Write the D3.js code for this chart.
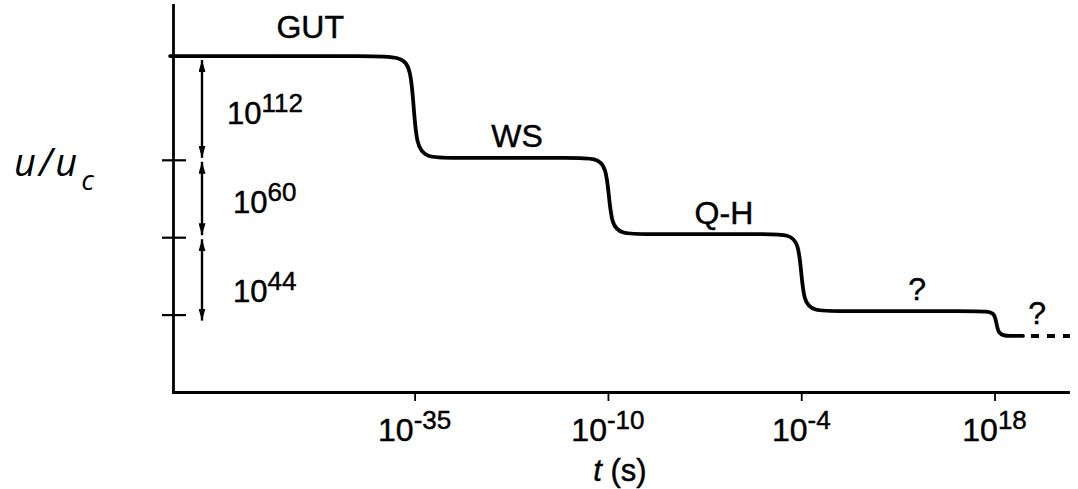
<!DOCTYPE html>
<html>
<head>
<meta charset="utf-8">
<script src="https://cdn.jsdelivr.net/npm/d3@7"></script>
<style>
  html, body { margin: 0; padding: 0; background: #fff; }
  svg { display: block; }
  text { font-family: "Liberation Sans", Arial, sans-serif; fill: #000; stroke: #000; stroke-width: 0.45px; }
</style>
</head>
<body>
<svg id="chart" width="1078" height="489"></svg>
<script>
// Schematic history of the energy density u/u_c through the cosmic phase transitions.
// Time axis: one unit per epoch boundary (schematic, not to scale).
const tickTimes = [1, 2, 3, 4];
const tickBase = ["10", "10", "10", "10"];
const tickExp = ["-35", "-10", "-4", "18"];

// Plateau levels of u/u_c (schematic units), one per phase
const phaseNames = ["GUT", "WS", "Q-H", "?", "?"];
const plateauLevels = [86.8, 60.5, 40.8, 20.9, 14.5];
const phaseLabelT = [0.46, 1.53, 2.60, 3.60, 4.22];

// Phase transitions: time and half-duration (epoch units)
const transitionTimes = [0.995, 2.005, 3.0, 4.01];
const transitionHalfWidths = [0.12, 0.12, 0.115, 0.075];
const curveStartT = -0.265;
const solidEndT = 4.147;
const curveEndT = 4.39;

// Level ticks and the energy-density ratios between them
const levelTicks = [60, 40, 20];
const gapBounds = [86.8, 60, 40, 20];
const gapBase = ["10", "10", "10"];
const gapExp = ["112", "60", "44"];

const svg = d3.select("#chart");
const x = d3.scaleLinear().domain([-0.25, 4.38]).range([173, 1068]);
const y = d3.scaleLinear().domain([0, 100]).range([392, 5]);

// Arrowhead marker
svg.append("defs").append("marker")
  .attr("id", "head")
  .attr("viewBox", "0 -3.5 12 7")
  .attr("refX", 12).attr("refY", 0)
  .attr("markerUnits", "userSpaceOnUse")
  .attr("markerWidth", 12).attr("markerHeight", 7)
  .attr("orient", "auto-start-reverse")
  .append("path").attr("d", "M0,-3.5L12,0L0,3.5Z").attr("fill", "#000");

// Axes
const xAxis = d3.axisBottom(x).tickValues(tickTimes).tickSizeInner(9).tickSizeOuter(0).tickFormat("");
const gx = svg.append("g").attr("transform", `translate(0,${y(0)})`).call(xAxis);
gx.select(".domain").attr("stroke-width", 2.8).attr("stroke-linecap", "square");
gx.selectAll(".tick line").attr("stroke-width", 1.8);

const yAxis = d3.axisLeft(y).tickValues(levelTicks).tickSizeInner(11).tickSizeOuter(0).tickFormat("");
const gy = svg.append("g").attr("transform", `translate(${x(-0.25)},0)`).call(yAxis);
gy.select(".domain").attr("stroke-width", 2.8).attr("stroke-linecap", "square");
gy.selectAll(".tick line").attr("x2", -11).attr("x1", 13).attr("stroke-width", 2.2);

// Time tick labels (powers of ten)
const tl = svg.append("g").selectAll("text").data(tickTimes).join("text")
  .attr("x", d => x(d)).attr("y", 441)
  .attr("text-anchor", "middle");
tl.append("tspan").attr("font-size", 32).text((d, i) => tickBase[i]);
tl.append("tspan").attr("font-size", 26).attr("dy", -12).text((d, i) => tickExp[i]);

// Axis titles
const xt = svg.append("text").attr("x", 620).attr("y", 481).attr("text-anchor", "middle").attr("font-size", 31);
xt.append("tspan").attr("font-style", "italic").text("t");
xt.append("tspan").text(" (s)");

const yt = svg.append("text").attr("x", 14).attr("y", 176)
  .style("font-family", "'Open Sans', 'Noto Sans', sans-serif").style("stroke-width", "0px")
  .style("letter-spacing", "3px")
  .attr("font-style", "italic").attr("font-size", 38);
yt.append("tspan").text("u/u");
yt.append("tspan").attr("font-size", 28).attr("dy", 14).attr("dx", 1).text("c");

// Energy-density curve: smoothed steps through the transitions
const pts = [[curveStartT, plateauLevels[0]]];
transitionTimes.forEach((t, i) => {
  const w = transitionHalfWidths[i];
  pts.push([t - w, plateauLevels[i]], [t, plateauLevels[i]], [t, plateauLevels[i + 1]], [t + w, plateauLevels[i + 1]]);
});
pts.push([solidEndT, plateauLevels[plateauLevels.length - 1]]);

const line = d3.line().x(d => x(d[0])).y(d => y(d[1])).curve(d3.curveBasis);
svg.append("path").attr("d", line(pts))
  .attr("fill", "none").attr("stroke", "#000").attr("stroke-width", 3.8)
  .attr("stroke-linecap", "round").attr("stroke-linejoin", "round");

// Uncertain future: dashed continuation
const last = plateauLevels[plateauLevels.length - 1];
svg.append("path").attr("d", d3.line().x(d => x(d[0])).y(d => y(d[1]))([[solidEndT, last], [curveEndT, last]]))
  .attr("fill", "none").attr("stroke", "#000").attr("stroke-width", 4)
  .attr("stroke-dasharray", "8 8").attr("stroke-dashoffset", 8);

// Phase labels above each plateau
const labelLift = [18, 11, 10, 11, 12];
svg.append("g").selectAll("text").data(phaseNames).join("text")
  .attr("x", (d, i) => x(phaseLabelT[i]))
  .attr("y", (d, i) => y(plateauLevels[i]) - labelLift[i])
  .attr("text-anchor", "middle").attr("font-size", 32)
  .text(d => d);

// Ratio arrows between level ticks
const arrowX = x(-0.25) + 29;
const gaps = d3.range(gapBounds.length - 1);
svg.append("g").selectAll("line").data(gaps).join("line")
  .attr("x1", arrowX).attr("x2", arrowX)
  .attr("y1", i => y(gapBounds[i]) + (i === 0 ? 4 : 2))
  .attr("y2", i => y(gapBounds[i + 1]) + (i === gaps.length - 1 ? 6 : -2))
  .attr("stroke", "#000").attr("stroke-width", 2.4)
  .attr("marker-start", "url(#head)").attr("marker-end", "url(#head)");

const gapLabelX = [54, 60, 60];
const gapLabelDrop = [16, 14, 26];
const gl = svg.append("g").selectAll("text").data(gaps).join("text")
  .attr("x", i => x(-0.25) + gapLabelX[i])
  .attr("y", i => (y(gapBounds[i]) + y(gapBounds[i + 1])) / 2 + gapLabelDrop[i]);
gl.append("tspan").attr("font-size", 31).text(i => gapBase[i]);
gl.append("tspan").attr("font-size", 26).attr("dy", -12).text(i => gapExp[i]);
</script>
</body>
</html>
